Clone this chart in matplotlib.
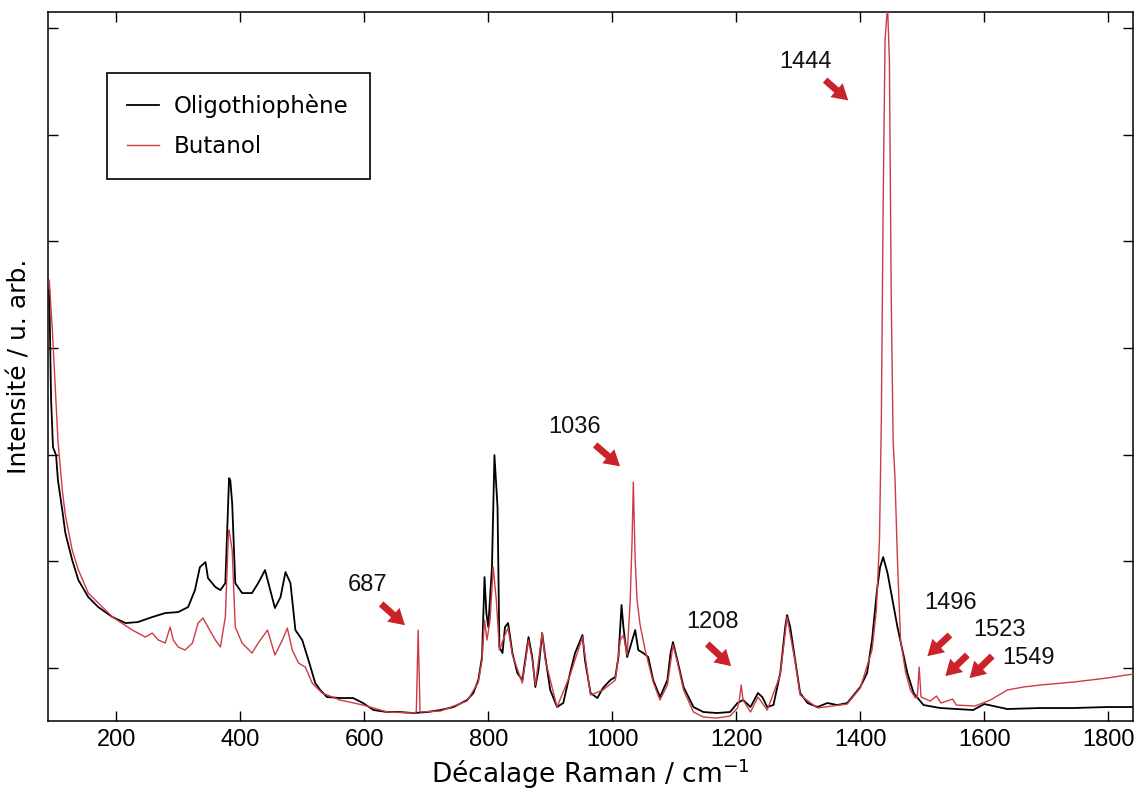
import matplotlib
matplotlib.use("Agg")
import matplotlib.pyplot as plt
import numpy as np

# Raman spectra (arbitrary intensity units)
oligo_shift = [
    92, 95, 98, 103, 106, 113, 118, 129, 139, 155, 171, 194, 215, 235, 258, 279,
    300, 316, 327, 335, 344, 348, 360, 368, 376, 381, 382, 384, 387, 392, 403, 419,
    429, 440, 456, 465, 473, 481, 489, 500, 510, 521, 529, 540, 561, 582, 598, 615,
    637, 658, 679, 702, 723, 744, 766, 776, 784, 790, 794, 797, 800, 806, 810, 815,
    818, 823, 827, 832, 839, 847, 855, 865, 871, 876, 881, 887, 892, 900, 911, 921,
    932, 940, 952, 956, 965, 976, 985, 997, 1005, 1010, 1015, 1018, 1024, 1029, 1037,
    1042, 1050, 1058, 1066, 1077, 1089, 1094, 1098, 1105, 1115, 1131, 1147, 1169,
    1190, 1202, 1211, 1223, 1235, 1242, 1250, 1260, 1271, 1279, 1282, 1287, 1295,
    1303, 1315, 1331, 1347, 1363, 1379, 1400, 1411, 1419, 1427, 1432, 1437, 1444,
    1452, 1460, 1468, 1476, 1486, 1502, 1529, 1582, 1600, 1637, 1690, 1744, 1798, 1840,
]
oligo_int = [
    4280, 3180, 2710, 2630, 2380, 2080, 1850, 1580, 1380, 1210, 1110, 1010, 950, 960, 1010, 1050,
    1060, 1110, 1280, 1510, 1560, 1400, 1310, 1280, 1350, 2250, 2400, 2380, 2150, 1350, 1250, 1250,
    1350, 1480, 1100, 1210, 1460, 1350, 880, 780, 580, 350, 280, 210, 200, 200, 150, 80,
    60, 60, 50, 60, 80, 110, 180, 250, 380, 610, 1410, 1050, 910, 1510, 2630, 2110,
    710, 650, 910, 950, 650, 450, 380, 810, 610, 310, 480, 850, 610, 280, 110, 150,
    450, 650, 830, 580, 250, 200, 300, 380, 410, 610, 1130, 910, 610, 710, 880,
    680, 650, 610, 380, 210, 380, 650, 760, 580, 310, 110, 60, 50,
    60, 150, 180, 110, 250, 210, 110, 130, 450, 910, 1030, 910, 580,
    250, 150, 110, 150, 130, 150, 310, 450, 780, 1280, 1510, 1610, 1450,
    1180, 910, 680, 450, 250, 130, 100, 80, 140, 90, 100, 100, 110, 110,
]

butanol_shift = [
    92, 97, 102, 106, 113, 118, 129, 139, 155, 194, 226, 247, 258, 268, 279, 287,
    292, 300, 311, 323, 332, 340, 348, 360, 368, 376, 381, 382, 387, 392, 403, 419,
    429, 444, 456, 468, 476, 484, 494, 505, 516, 532, 561, 598, 637, 679, 684, 687,
    690, 723, 766, 784, 790, 794, 798, 803, 808, 813, 818, 827, 832, 839, 855, 865,
    871, 876, 887, 892, 911, 932, 952, 965, 985, 1005, 1013, 1018, 1024, 1029, 1032,
    1034, 1037, 1040, 1045, 1053, 1066, 1077, 1089, 1098, 1105, 1115, 1131, 1147,
    1169, 1190, 1202, 1205, 1208, 1211, 1223, 1235, 1250, 1271, 1282, 1295, 1303,
    1331, 1379, 1400, 1419, 1426, 1431, 1434, 1437, 1440, 1444, 1447, 1450, 1453,
    1456, 1460, 1465, 1473, 1481, 1489, 1492, 1495, 1498, 1513, 1523, 1530, 1549,
    1555, 1585, 1610, 1637, 1663, 1690, 1744, 1798, 1830, 1840,
]
butanol_int = [
    4380, 3880, 3280, 2780, 2280, 2030, 1680, 1480, 1250, 1010, 880, 810, 850, 780, 750, 910,
    780, 710, 680, 750, 950, 1000, 910, 780, 710, 1010, 1850, 1880, 1680, 910, 750, 650,
    750, 880, 630, 780, 900, 680, 550, 510, 350, 250, 180, 130, 60, 50, 60, 880,
    60, 70, 170, 360, 580, 980, 780, 980, 1510, 1180, 680, 830, 900, 630, 350, 780,
    580, 330, 850, 580, 110, 430, 810, 230, 280, 380, 780, 830, 630, 1180, 1780,
    2360, 1580, 1180, 930, 680, 360, 180, 330, 730, 560, 280, 60, 10,
    0, 20, 100, 180, 330, 180, 60, 210, 80, 430, 1010, 560, 230,
    100, 140, 300, 680, 1080, 1780, 2980, 5180, 6780, 7130, 6580, 4180, 2780,
    2400, 1580, 780, 460, 280, 200, 210, 510, 210, 170, 220, 150, 190,
    130, 120, 180, 280, 310, 330, 360, 400, 430, 440,
]

# peak labels: (text, text position, arrow tail, arrow head)
peak_labels = ["687", "1036", "1208", "1444", "1496", "1523", "1549"]
label_xy = [(605, 1330), (940, 2910), (1161, 960), (1311, 6560),
            (1545, 1150), (1624, 880), (1671, 600)]
arrow_tail = [(624, 1160), (969, 2750), (1150, 760), (1340, 6400),
              (1548, 850), (1576, 650), (1616, 640)]
arrow_head = [(669, 910), (1016, 2500), (1195, 500), (1384, 6160),
              (1505, 600), (1534, 400), (1573, 380)]

num_font = "Liberation Sans"

fig = plt.figure(figsize=(11.35, 7.99), dpi=100)
ax = fig.add_axes([0.0423, 0.0976, 0.956, 0.887])

ax.plot(oligo_shift, oligo_int, color="black", lw=1.3, label="Oligothiophène", zorder=3)
ax.plot(butanol_shift, butanol_int, color="#d03a46", lw=1.0, label="Butanol", zorder=4)

for txt, pos, tail, head in zip(peak_labels, label_xy, arrow_tail, arrow_head):
    ax.text(pos[0], pos[1], txt, ha="center", va="center", fontsize=17,
            family=num_font, color="#111111", zorder=6)
    ax.annotate("", xy=head, xytext=tail,
                arrowprops=dict(arrowstyle="simple,head_width=0.95,head_length=0.8,tail_width=0.35",
                                mutation_scale=14, color="#cc2229", lw=0),
                zorder=6)

ax.set_xlim(90, 1840)
ax.set_ylim(-30, 7060)
ax.set_xticks(np.arange(200, 1801, 200))
ax.set_yticks(500 + 1067 * np.arange(7))
ax.set_yticklabels([])
ax.tick_params(direction="in", top=True, right=True, length=7, width=1, pad=6)
for lab in ax.get_xticklabels():
    lab.set_fontfamily(num_font)
    lab.set_fontsize(17)
for sp in ax.spines.values():
    sp.set_linewidth(1.1)

ax.set_xlabel("Décalage Raman / cm$^{-1}$", fontsize=19, labelpad=4)
ax.set_ylabel("Intensité / u. arb.", fontsize=18, labelpad=6)

leg = ax.legend(loc="upper left", bbox_to_anchor=(0.054, 0.914), borderaxespad=0,
                fontsize=16.5, frameon=True, fancybox=False, framealpha=1,
                handlelength=1.4, handletextpad=0.65, labelspacing=0.75, borderpad=0.9)
leg.get_frame().set_edgecolor("black")
leg.get_frame().set_linewidth(1.2)

fig.savefig("out.png", dpi=100)
plt.close(fig)
